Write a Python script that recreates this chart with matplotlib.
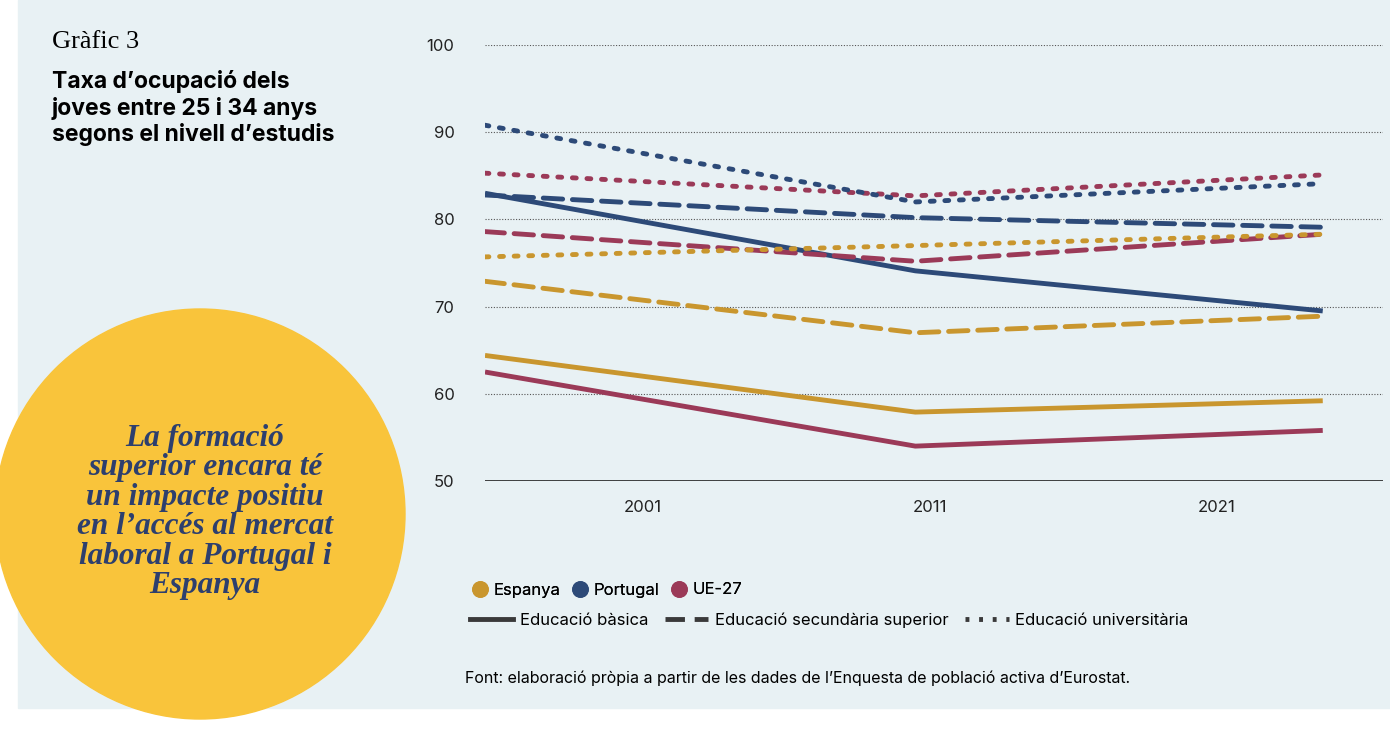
import matplotlib.pyplot as plt
from matplotlib.lines import Line2D
from matplotlib.patches import Rectangle, Ellipse

# x positions (years) of the three data points, as placed in the chart
x_pos = [1995.5, 2010.5, 2024.7]
tick_years = [2001, 2011, 2021]

espanya_basica = [64.4, 57.9, 59.2]
espanya_secundaria = [72.9, 67.0, 68.9]
espanya_univ = [75.7, 77.0, 78.3]
portugal_basica = [83.0, 74.1, 69.5]
portugal_secundaria = [82.8, 80.2, 79.1]
portugal_univ = [90.8, 82.0, 84.1]
ue_basica = [62.5, 54.0, 55.8]
ue_secundaria = [78.6, 75.2, 78.3]
ue_univ = [85.3, 82.7, 85.1]

C_ES = '#C9962E'
C_PT = '#2D4A78'
C_UE = '#9B3A58'
BG = '#E8F1F4'

plt.rcParams['font.family'] = ['Inter', 'DejaVu Sans']

fig = plt.figure(figsize=(13.9, 7.32), dpi=100)
fig.patches.append(Rectangle((18/1390, 1-708/732), 1-18/1390, 708/732, transform=fig.transFigure,
                             color=BG, zorder=-10))

ax = fig.add_axes([485/1390, 1-481/732, 898/1390, 436/732])
ax.set_facecolor(BG)

series = [
    (espanya_basica, C_ES, '-'), (ue_basica, C_UE, '-'), (portugal_basica, C_PT, '-'),
    (espanya_secundaria, C_ES, (0, (4, 2))), (ue_secundaria, C_UE, (0, (4, 2))), (portugal_secundaria, C_PT, (0, (4, 2))),
    (espanya_univ, C_ES, (0, (0.8, 2.2))), (ue_univ, C_UE, (0, (0.8, 2.2))), (portugal_univ, C_PT, (0, (0.8, 2.2))),
]
for vals, col, ls in series:
    ax.plot(x_pos, vals, color=col, linestyle=ls, lw=3.5, solid_capstyle='butt', dash_capstyle='round')

ax.set_xlim(1995.5, 2026.8)
ax.set_ylim(50, 100)
ax.set_yticks([50, 60, 70, 80, 90, 100])
ax.set_xticks(tick_years)
ax.grid(axis='y', color='#555555', linestyle=(0, (1, 1.5)), lw=0.8)
ax.set_axisbelow(True)
for s in ax.spines.values():
    s.set_visible(False)
ax.axhline(50, color='#222222', lw=1.2)
ax.tick_params(length=0, labelsize=12, colors='#222222')
ax.tick_params(axis='y', pad=22)
ax.tick_params(axis='x', pad=14)

fig.text(52/1390, 1-42/732, 'Gràfic 3', family='Liberation Serif', fontsize=19, va='center')
fig.text(52/1390, 1-108/732, 'Taxa d’ocupació dels\njoves entre 25 i 34 anys\nsegons el nivell d’estudis',
         fontsize=16.5, fontweight='bold', va='center', linespacing=1.2)

fig.patches.append(Ellipse((200/1390, 1-514/732), 410/1390, 410/732,
                           transform=fig.transFigure, color='#F9C43B'))
fig.text(205/1390, 1-512/732, 'La formació\nsuperior encara té\nun impacte positiu\nen l’accés al mercat\nlaboral a Portugal i\nEspanya',
         family='Liberation Serif', style='italic', fontweight='bold', fontsize=22.5, color='#2D3F6E',
         ha='center', va='center', linespacing=1.02)

h1 = [Line2D([], [], ls='none', marker='o', ms=11, color=c) for c in (C_ES, C_PT, C_UE)]
l1 = fig.legend(h1, ['Espanya', 'Portugal', 'UE-27'], loc='center left', bbox_to_anchor=(455/1390, 1-590/732),
                ncol=3, frameon=False, fontsize=12, handletextpad=0.2, columnspacing=0.6, handlelength=1.2)
h2 = [Line2D([], [], color='#3a3a3a', lw=3.5, ls=ls) for ls in ('-', (0, (4, 2)), (0, (0.8, 2.0)))]
fig.legend(h2, ['Educació bàsica', 'Educació secundària superior', 'Educació universitària'],
           loc='center left', bbox_to_anchor=(455/1390, 1-620/732), ncol=3, frameon=False, fontsize=12,
           handlelength=2.6, handletextpad=0.4, columnspacing=1.0)
fig.add_artist(l1)

fig.text(465/1390, 1-678/732, 'Font: elaboració pròpia a partir de les dades de l’Enquesta de població activa d’Eurostat.',
         fontsize=11.5, va='center')

fig.savefig('out.png', dpi=100, facecolor='white')
